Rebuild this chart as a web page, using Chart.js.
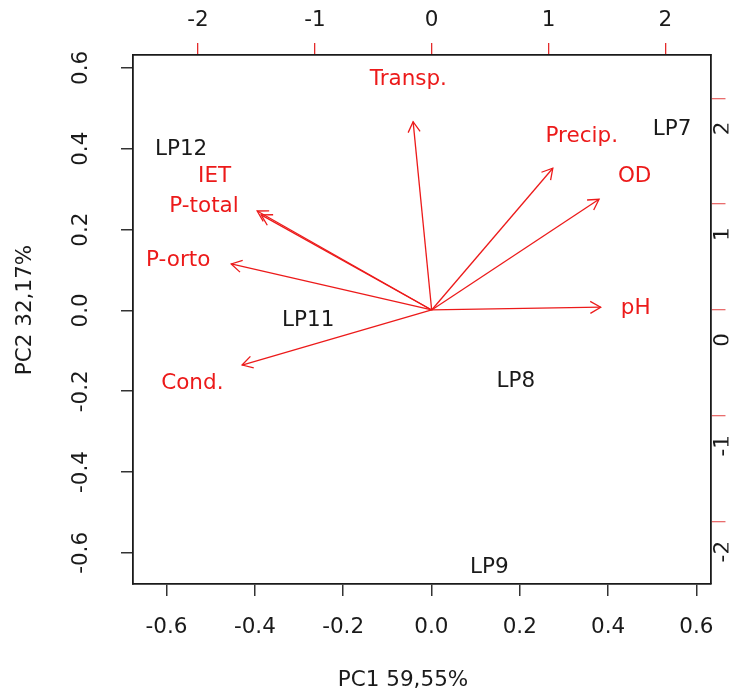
<!DOCTYPE html>
<html>
<head>
<meta charset="utf-8">
<script src="https://cdn.jsdelivr.net/npm/chart.js@4"></script>
<style>
html,body{margin:0;padding:0;background:#fff;}
#wrap{width:733px;height:693px;position:relative;}
</style>
</head>
<body>
<div id="wrap"><canvas id="c"></canvas></div>
<script>
// ---- Data ----
// Observations (scores, bottom/left axes)
const obsLabels = ['LP7', 'LP8', 'LP9', 'LP11', 'LP12'];
const obsPC1 = [0.545, 0.191, 0.131, -0.279, -0.567];
const obsPC2 = [0.447, -0.175, -0.637, -0.025, 0.399];

// Variables (loadings, top/right axes)
const varLabels = ['Transp.', 'Precip.', 'OD', 'pH', 'IET', 'P-total', 'P-orto', 'Cond.'];
const arrowPC1 = [-0.159, 1.037, 1.433, 1.447, -1.494, -1.460, -1.716, -1.623];
const arrowPC2 = [1.779, 1.339, 1.046, 0.026, 0.935, 0.898, 0.435, -0.520];
const labelPC1 = [-0.200, 1.285, 1.738, 1.747, -1.858, -1.949, -2.170, -2.049];
const labelPC2 = [2.180, 1.637, 1.259, 0.016, 1.259, 0.976, 0.472, -0.693];

// Tick labels
const pc1Ticks = [-0.6, -0.4, -0.2, 0.0, 0.2, 0.4, 0.6];
const pc2Ticks = [-0.6, -0.4, -0.2, 0.0, 0.2, 0.4, 0.6];
const varTicks = [-2, -1, 0, 1, 2];

// Axis titles
const xTitle = 'PC1 59,55%';
const yTitle = 'PC2 32,17%';

// ---- Styles ----
const FONT = '"DejaVu Sans", "Liberation Sans", sans-serif';
const FS = 21.5;
const RED = '#ec1a1a';
const INK = '#1a1a1a';

const datasets = [];
varLabels.forEach((lab, i) => {
  datasets.push({
    kind: 'arrow', label: lab, xAxisID: 'x2', yAxisID: 'y2',
    data: [{x: 0, y: 0}, {x: arrowPC1[i], y: arrowPC2[i]}],
    showLine: true, borderColor: RED, borderWidth: 1.3,
    pointRadius: 0, pointHoverRadius: 0, clip: false
  });
});
datasets.push({
  kind: 'obs', label: 'obs', xAxisID: 'x', yAxisID: 'y',
  data: obsLabels.map((l, i) => ({x: obsPC1[i], y: obsPC2[i]})),
  pointRadius: 0, pointHoverRadius: 0, clip: false
});
datasets.push({
  kind: 'varlab', label: 'varlab', xAxisID: 'x2', yAxisID: 'y2',
  data: varLabels.map((l, i) => ({x: labelPC1[i], y: labelPC2[i]})),
  pointRadius: 0, pointHoverRadius: 0, clip: false
});

const annot = {
  id: 'annot',
  afterDatasetsDraw(chart) {
    const ctx = chart.ctx;
    ctx.save();
    chart.data.datasets.forEach((ds, i) => {
      const pts = chart.getDatasetMeta(i).data;
      if (ds.kind === 'arrow') {
        const p0 = pts[0], p1 = pts[1];
        const ang = Math.atan2(p1.y - p0.y, p1.x - p0.x);
        const L = 12, a = Math.PI / 6;
        ctx.strokeStyle = RED; ctx.lineWidth = 1.3;
        ctx.beginPath();
        ctx.moveTo(p1.x - L * Math.cos(ang - a), p1.y - L * Math.sin(ang - a));
        ctx.lineTo(p1.x, p1.y);
        ctx.lineTo(p1.x - L * Math.cos(ang + a), p1.y - L * Math.sin(ang + a));
        ctx.stroke();
      } else if (ds.kind === 'obs' || ds.kind === 'varlab') {
        const labs = ds.kind === 'obs' ? obsLabels : varLabels;
        ctx.fillStyle = ds.kind === 'obs' ? INK : RED;
        ctx.font = FS + 'px ' + FONT;
        ctx.textAlign = 'center';
        ctx.textBaseline = 'middle';
        pts.forEach((p, j) => ctx.fillText(labs[j], p.x, p.y));
      }
    });
    // axis titles
    ctx.fillStyle = INK;
    ctx.font = FS + 'px ' + FONT;
    ctx.textAlign = 'center';
    ctx.textBaseline = 'middle';
    ctx.fillText(xTitle, 403, 680);
    ctx.translate(25, 310);
    ctx.rotate(-Math.PI / 2);
    ctx.fillText(yTitle, 0, 0);
    ctx.restore();
  }
};

const tickFont = {family: FONT, size: FS};

new Chart(document.getElementById('c'), {
  type: 'scatter',
  data: {datasets},
  options: {
    responsive: true, maintainAspectRatio: false, animation: false,
    layout: {padding: 0},
    plugins: {legend: {display: false}, tooltip: {enabled: false}},
    events: [],
    scales: {
      x: {
        type: 'linear', position: 'bottom', min: -0.676, max: 0.632,
        afterBuildTicks: s => { s.ticks = pc1Ticks.map(v => ({value: v})); },
        afterFit: s => { s.height = 109; },
        ticks: {callback: v => Number(v).toFixed(1), color: INK, font: tickFont, padding: 19, autoSkip: false, minRotation: 0, maxRotation: 0},
        grid: {drawOnChartArea: false, drawTicks: true, tickLength: 12, color: '#333', lineWidth: 1.5},
        border: {display: true, color: '#1a1a1a', width: 1.8}
      },
      y: {
        type: 'linear', position: 'left', min: -0.677, max: 0.632,
        afterBuildTicks: s => { s.ticks = pc2Ticks.map(v => ({value: v})); },
        afterFit: s => { s.width = 133; },
        ticks: {callback: v => Number(v).toFixed(1), color: INK, font: tickFont, padding: 19, autoSkip: false, minRotation: 90, maxRotation: 90, crossAlign: 'center'},
        grid: {drawOnChartArea: false, drawTicks: true, tickLength: 12, color: '#333', lineWidth: 1.5},
        border: {display: true, color: '#1a1a1a', width: 1.8}
      },
      x2: {
        type: 'linear', position: 'top', min: -2.557, max: 2.387,
        afterBuildTicks: s => { s.ticks = varTicks.map(v => ({value: v})); },
        afterFit: s => { s.height = 55; },
        ticks: {callback: v => String(v), color: INK, font: tickFont, padding: 10, autoSkip: false, minRotation: 0, maxRotation: 0},
        grid: {drawOnChartArea: false, drawTicks: true, tickLength: 12, color: 'rgba(225,20,20,0.9)', lineWidth: 1.3},
        border: {display: true, color: '#1a1a1a', width: 1.8}
      },
      y2: {
        type: 'linear', position: 'right', min: -2.589, max: 2.409,
        afterBuildTicks: s => { s.ticks = varTicks.map(v => ({value: v})); },
        afterFit: s => { s.width = 18; },
        ticks: {callback: v => String(v), color: INK, font: tickFont, padding: -13, labelOffset: 30, autoSkip: false, minRotation: 90, maxRotation: 90, crossAlign: 'center'},
        grid: {drawOnChartArea: false, drawTicks: true, tickLength: 15, color: 'rgba(225,60,60,0.75)', lineWidth: 1.3},
        border: {display: true, color: '#1a1a1a', width: 1.8}
      }
    }
  },
  plugins: [annot]
});
</script>
</body>
</html>
